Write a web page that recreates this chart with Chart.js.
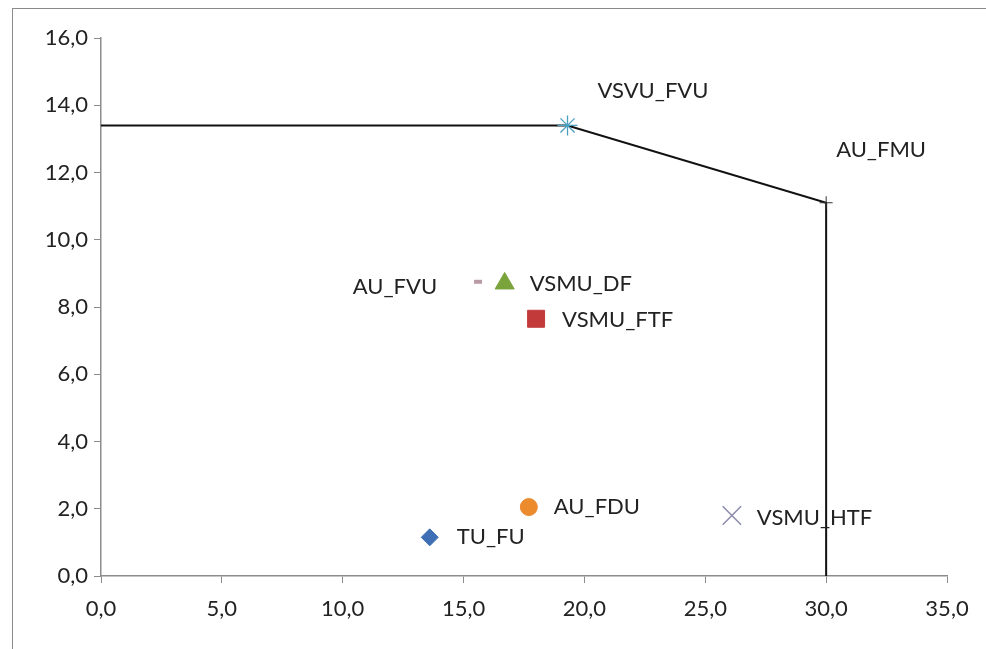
<!DOCTYPE html>
<html>
<head>
<meta charset="utf-8">
<script src="https://cdn.jsdelivr.net/npm/chart.js@4.4.1/dist/chart.umd.min.js"></script>
<style>
  html, body { margin: 0; padding: 0; background: #fff; }
  #wrap { position: relative; width: 986px; height: 649px; overflow: hidden; }
  #frame { position: absolute; left: 12px; top: 8px; width: 1000px; height: 700px; border: 1px solid #8a8a8a; box-sizing: border-box; }
  canvas { position: absolute; left: 0; top: 0; }
</style>
</head>
<body>
<div id="wrap">
  <div id="frame"></div>
  <canvas id="c" width="986" height="649"></canvas>
</div>
<script>
// ---- data ----
const pointNames = ["TU_FU", "AU_FDU", "VSMU_DF", "VSMU_FTF", "AU_FVU", "VSMU_HTF", "VSVU_FVU", "AU_FMU"];
const pointX = [13.6, 17.7, 16.7, 18.0, 15.6, 26.1, 19.3, 30.0];
const pointY = [1.15, 2.05, 8.7, 7.65, 8.75, 1.8, 13.4, 11.1];
const boundaryX = [0, 19.3, 30.0, 30.0];
const boundaryY = [13.4, 13.4, 11.1, 0];
const xTicks = [0, 5, 10, 15, 20, 25, 30, 35];
const yTicks = [0, 2, 4, 6, 8, 10, 12, 14, 16];

// ---- styles ----
const markerStyles = [
  { pointStyle: 'rectRot', radius: 8.5, bg: '#3e6fb4', border: '#3e6fb4', bw: 1 },
  { pointStyle: 'circle', radius: 8.5, bg: '#ec8a2e', border: '#ec8a2e', bw: 1 },
  { pointStyle: 'triangle', radius: 11, bg: '#7aa33c', border: '#7aa33c', bw: 1 },
  { pointStyle: 'rect', radius: 12, bg: '#c23b3a', border: '#c23b3a', bw: 1 },
  { pointStyle: 'line', radius: 4, bg: '#b99aa6', border: '#b99aa6', bw: 4 },
  { pointStyle: 'crossRot', radius: 13, bg: '#8a8aab', border: '#8a8aab', bw: 1.5 },
  { pointStyle: 'star', radius: 10, bg: '#4aa0c0', border: '#4aa0c0', bw: 1.3 },
  { pointStyle: 'cross', radius: 6.5, bg: '#333', border: '#333', bw: 1 }
];
const labelOffsets = [
  { dx: 27, dy: 0, align: 'left' },
  { dx: 25, dy: 0, align: 'left' },
  { dx: 25, dy: 0, align: 'left' },
  { dx: 26, dy: 1, align: 'left' },
  { dx: -41, dy: 5, align: 'right' },
  { dx: 25, dy: 2, align: 'left' },
  { dx: 30, dy: -35, align: 'left' },
  { dx: 10, dy: -53, align: 'left' }
];
const FONT = 'Lato, "Open Sans", sans-serif';

const datasets = [{
  label: 'boundary',
  data: boundaryX.map((x, i) => ({ x: x, y: boundaryY[i] })),
  showLine: true,
  borderColor: '#111',
  borderWidth: 2,
  pointRadius: 0,
  fill: false,
  order: 2
}];
pointNames.forEach((n, i) => {
  const s = markerStyles[i];
  datasets.push({
    label: n,
    data: [{ x: pointX[i], y: pointY[i] }],
    pointStyle: s.pointStyle,
    pointRadius: s.radius,
    pointBackgroundColor: s.bg,
    pointBorderColor: s.border,
    pointBorderWidth: s.bw,
    showLine: false,
    order: 1,
    labelIndex: i
  });
});

const labelPlugin = {
  id: 'pointLabels',
  afterDatasetsDraw(chart) {
    const ctx = chart.ctx;
    ctx.save();
    ctx.font = '22px ' + FONT;
    ctx.fillStyle = '#222';
    ctx.textBaseline = 'middle';
    chart.data.datasets.forEach((ds, di) => {
      if (ds.labelIndex === undefined) return;
      const meta = chart.getDatasetMeta(di);
      const el = meta.data[0];
      const o = labelOffsets[ds.labelIndex];
      ctx.textAlign = o.align;
      ctx.fillText(pointNames[ds.labelIndex], el.x + o.dx, el.y + o.dy);
    });
    ctx.restore();
  }
};

const fmt = v => Number(v).toFixed(1).replace('.', ',');

new Chart(document.getElementById('c'), {
  type: 'scatter',
  data: { datasets: datasets },
  options: {
    responsive: false,
    animation: false,
    layout: { padding: { left: 0, top: 38, right: 39, bottom: 23 } },
    plugins: { legend: { display: false }, tooltip: { enabled: false } },
    scales: {
      x: {
        type: 'linear', min: 0, max: 35,
        afterBuildTicks: s => { s.ticks = xTicks.map(v => ({ value: v })); },
        afterFit: s => { s.height = 50; },
        ticks: { callback: fmt, color: '#222', font: { family: FONT, size: 22 }, padding: 13, maxRotation: 0 },
        grid: { drawOnChartArea: false, drawTicks: true, tickLength: 7, color: '#8c8c8c' },
        border: { color: '#8c8c8c', width: 1.5 }
      },
      y: {
        type: 'linear', min: 0, max: 16,
        afterBuildTicks: s => { s.ticks = yTicks.map(v => ({ value: v })); },
        afterFit: s => { s.width = 101; },
        ticks: { callback: fmt, color: '#222', font: { family: FONT, size: 22 }, padding: 6 },
        grid: { drawOnChartArea: false, drawTicks: true, tickLength: 7, color: '#8c8c8c' },
        border: { color: '#8c8c8c', width: 1.5 }
      }
    }
  },
  plugins: [labelPlugin]
});
</script>
</body>
</html>
